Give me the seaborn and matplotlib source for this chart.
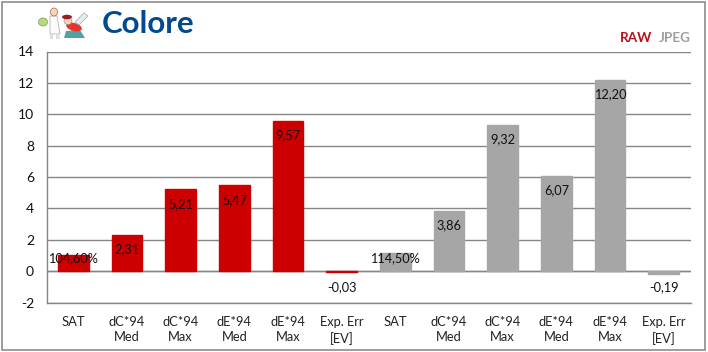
import pandas as pd
import seaborn as sns
import matplotlib.pyplot as plt
from matplotlib.patches import Rectangle, Ellipse, Polygon

# Values
categories = ["SAT", "dC*94\nMed", "dC*94\nMax", "dE*94\nMed", "dE*94\nMax", "Exp. Err\n[EV]"] * 2
raw_values = [1.046, 2.31, 5.21, 5.47, 9.57, -0.03]
jpeg_values = [1.145, 3.86, 9.32, 6.07, 12.20, -0.19]
raw_labels = ["104,60%", "2,31", "5,21", "5,47", "9,57", "-0,03"]
jpeg_labels = ["114,50%", "3,86", "9,32", "6,07", "12,20", "-0,19"]
y_ticks = [-2, 0, 2, 4, 6, 8, 10, 12, 14]

RED = "#cc0000"
GREY = "#a6a6a6"
LINE = "#868686"

values = raw_values + jpeg_values
labels = raw_labels + jpeg_labels
data = pd.DataFrame({
    "pos": range(len(values)),
    "value": values,
    "format": ["RAW"] * len(raw_values) + ["JPEG"] * len(jpeg_values),
})

sns.set_theme(style="white")
plt.rcParams["font.family"] = ["Lato", "DejaVu Sans"]

W, H = 708, 352
fig = plt.figure(figsize=(W / 100, H / 100), dpi=100, facecolor="white")
ax = fig.add_axes([46.5 / W, 1 - 302.5 / H, 644 / W, 251 / H])

sns.barplot(data=data, x="pos", y="value", hue="format", dodge=False, width=0.57,
            palette={"RAW": RED, "JPEG": GREY}, saturation=1, legend=False, zorder=3, ax=ax)

# A thin edge of the same colour lets the very small bars stay visible
for bar in ax.patches:
    bar.set_edgecolor(bar.get_facecolor())
    bar.set_linewidth(1.0)

ax.set_ylim(-2, 14)
ax.set_xlim(-0.5, 11.5)
ax.set_yticks(y_ticks)
ax.set_xticks(range(len(categories)))
ax.set_xticklabels(categories, fontsize=9.3, color="#222222", linespacing=1.3)
ax.set_yticklabels([str(t) for t in y_ticks], fontsize=10, color="#111111")
ax.tick_params(axis="x", length=0, pad=10)
ax.tick_params(axis="y", length=0, pad=9)
ax.set_xlabel("")
ax.set_ylabel("")

# Horizontal gridlines go behind the bars, the zero line stays on top
ax.yaxis.grid(True, color=LINE, linewidth=1.0)
ax.set_axisbelow(True)
ax.axhline(0, color=LINE, linewidth=1.0, zorder=2.5)
for side in ["top", "right"]:
    ax.spines[side].set_visible(False)
for side in ["left", "bottom"]:
    ax.spines[side].set_color(LINE)
    ax.spines[side].set_linewidth(1.0)

# Data labels sit inside the top of the bar, negatives below the axis
for i, (v, txt) in enumerate(zip(values, labels)):
    if v < 0:
        y = -1.0
    else:
        y = max(v - 0.93, 0.85)
    ax.text(i, y, txt, ha="center", va="center", fontsize=9.2, color="#111111", zorder=5)

# Page overlay in pixel coordinates: frame, title, legend text, small clip art
over = fig.add_axes([0, 0, 1, 1], facecolor="none")
over.set_xlim(0, W)
over.set_ylim(H, 0)
over.axis("off")
over.add_patch(Rectangle((1.5, 1.5), 703, 348, fill=False, edgecolor="#8c8c8c", linewidth=1.2))
over.text(102, 24, "Colore", fontsize=22.5, fontweight="bold", color="#004a8f", ha="left", va="center")
over.text(620, 38, "RAW", fontsize=9.7, fontweight="bold", color="#b5121b", ha="left", va="center")
over.text(659, 38, "JPEG", fontsize=9.7, fontweight="bold", color="#a0a0a0", ha="left", va="center")

# Doctor figure
over.add_patch(Polygon([(50, 16), (57, 16), (60, 34), (50, 34)], facecolor="#fbfbfb", edgecolor="#a8a8a8", linewidth=0.5))
over.add_patch(Polygon([(50, 34), (53, 34), (53, 39), (50, 39)], facecolor="#d8e0d8", edgecolor="none"))
over.add_patch(Polygon([(56, 34), (59, 34), (60, 39), (56, 39)], facecolor="#d8e0d8", edgecolor="none"))
over.add_patch(Ellipse((54, 12), 7, 8, facecolor="#f5d6bd", edgecolor="#b0623a", linewidth=0.5))
over.add_patch(Ellipse((43, 22), 9, 8, facecolor="#b9d77c", edgecolor="#7f9a50", linewidth=0.5))
# Painter figure
over.add_patch(Polygon([(64, 38), (66, 31), (80, 30), (85, 38)], facecolor="#4fa3a5", edgecolor="none"))
over.add_patch(Ellipse((74, 27), 16, 8, angle=15, facecolor="#e8352c", edgecolor="none"))
over.add_patch(Ellipse((68, 21), 8, 7, facecolor="#f5d6bd", edgecolor="#888888", linewidth=0.4))
over.add_patch(Ellipse((67, 17), 10, 4.5, facecolor="#a01c22", edgecolor="none"))
over.add_patch(Polygon([(75, 22), (84, 13), (88, 16), (79, 25)], facecolor="#e3eeee", edgecolor="#99aaaa", linewidth=0.5))

fig.savefig("out.png", dpi=100)
